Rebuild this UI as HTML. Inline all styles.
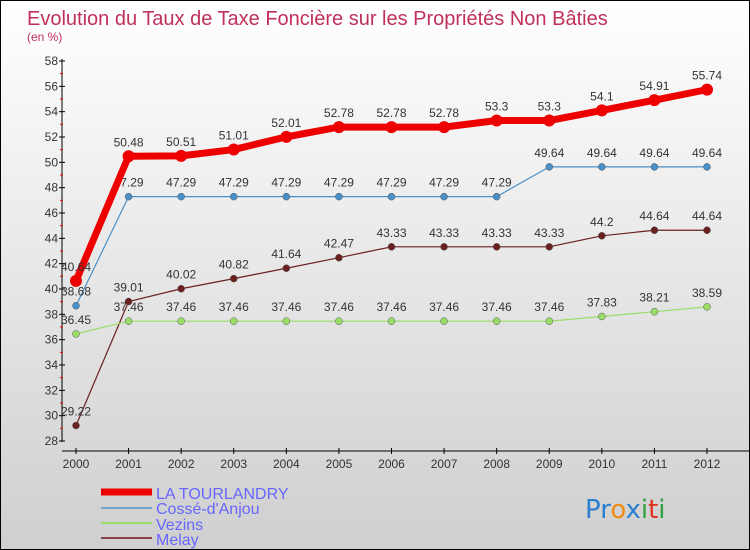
<!DOCTYPE html>
<html><head><meta charset="utf-8"><style>
body{margin:0}
#c{width:748px;height:548px;border:1px solid #000;background:linear-gradient(#ffffff,#cfcfcf);position:relative;font-family:"Liberation Sans",sans-serif;overflow:hidden}
</style></head><body>
<div id="c">
<svg id="s" width="748" height="548" xmlns="http://www.w3.org/2000/svg" style="position:absolute;left:0;top:0">
<text x="26" y="24" font-size="20" fill="#c0305a">Evolution du Taux de Taxe Foncière sur les Propriétés Non Bâties</text>
<text x="26" y="40" font-size="12" fill="#c0305a">(en %)</text>
<g id="ax"></g><g id="ser"></g>
<g>
<line x1="100" y1="491" x2="151" y2="491" stroke="#ee0000" stroke-width="7"/>
<line x1="100" y1="507" x2="151" y2="507" stroke="#70a8cc" stroke-width="2"/>
<line x1="100" y1="522" x2="151" y2="522" stroke="#99dd66" stroke-width="2"/>
<line x1="100" y1="537" x2="151" y2="537" stroke="#884444" stroke-width="2"/>
<text x="155" y="498" font-size="16" fill="#6666ff">LA TOURLANDRY</text>
<text x="155" y="513" font-size="16" fill="#6666ff">Cossé-d'Anjou</text>
<text x="155" y="529" font-size="16" fill="#6666ff">Vezins</text>
<text x="155" y="544" font-size="16" fill="#6666ff">Melay</text>
</g>
<g font-size="26" font-family="DejaVu Sans, sans-serif">
<text x="584" y="517"><tspan fill="#2a7fd0">Pr</tspan><tspan fill="#f08a10">o</tspan><tspan fill="#2a7fd0">x</tspan><tspan fill="#30a040">i</tspan><tspan fill="#e03020">t</tspan><tspan fill="#30a040">i</tspan></text>
</g>
</svg>
</div>
<script>
const years=[2000,2001,2002,2003,2004,2005,2006,2007,2008,2009,2010,2011,2012];
const yTicks=[28,30,32,34,36,38,40,42,44,46,48,50,52,54,56,58];
const tourlandry=[40.64,50.48,50.51,51.01,52.01,52.78,52.78,52.78,53.3,53.3,54.1,54.91,55.74];
const cosse=[38.68,47.29,47.29,47.29,47.29,47.29,47.29,47.29,47.29,49.64,49.64,49.64,49.64];
const vezins=[36.45,37.46,37.46,37.46,37.46,37.46,37.46,37.46,37.46,37.46,37.83,38.21,38.59];
const melay=[29.22,39.01,40.02,40.82,41.64,42.47,43.33,43.33,43.33,43.33,44.2,44.64,44.64];
const NS="http://www.w3.org/2000/svg";
const X=i=>75+i*(706-75)/12, Y=v=>440-(v-28)*(380/30);
function mk(t,a,p){const e=document.createElementNS(NS,t);for(const k in a)e.setAttribute(k,a[k]);p.appendChild(e);return e;}
const ax=document.getElementById('ax'),ser=document.getElementById('ser');
let yl=mk('line',{x1:61,y1:58,x2:61,y2:441,stroke:'#000'},ax);


let xl=mk('line',{x1:61,y1:450,x2:748,y2:450,stroke:'#000'},ax);


yTicks.forEach(v=>{mk('line',{x1:58,y1:Y(v),x2:64,y2:Y(v),stroke:'#000'},ax);
 if(v<58)mk('line',{x1:59,y1:Y(v+1),x2:62,y2:Y(v+1),stroke:'#e00'},ax);
 const t=mk('text',{x:57,y:Y(v)+4,'font-size':12,'text-anchor':'end',fill:'#333'},ax);t.textContent=v;
 
 });
years.forEach((yr,i)=>{mk('line',{x1:X(i),y1:447,x2:X(i),y2:453,stroke:'#000'},ax);
 const t=mk('text',{x:X(i),y:467,'font-size':12,'text-anchor':'middle',fill:'#333'},ax);t.textContent=yr;
 
 });
function series(d,col,w,r,name){
 const g=mk('g',{},ser);
 
 
 mk('polyline',{points:d.map((v,i)=>X(i)+','+Y(v)).join(' '),fill:'none',stroke:col,'stroke-width':w,'stroke-linejoin':'round'},g);
 d.forEach((v,i)=>{const c=mk('circle',{cx:X(i),cy:Y(v),r:r,fill:col,stroke:w>3?col:'#555','stroke-width':w>3?0:0.5},g);
  
  
  const t=mk('text',{x:X(i),y:Y(v)-10,'font-size':12,'text-anchor':'middle',fill:'#333'},g);t.textContent=String(v);
  
  });
}
series(melay,'#6b2020',1.2,3.5,'series-melay');
series(vezins,'#99dd66',1.2,3.5,'series-vezins');
series(cosse,'#4a90c8',1.2,3.5,'series-cosse');
series(tourlandry,'#ee0000',7,6,'series-la-tourlandry');
</script>
</body></html>
